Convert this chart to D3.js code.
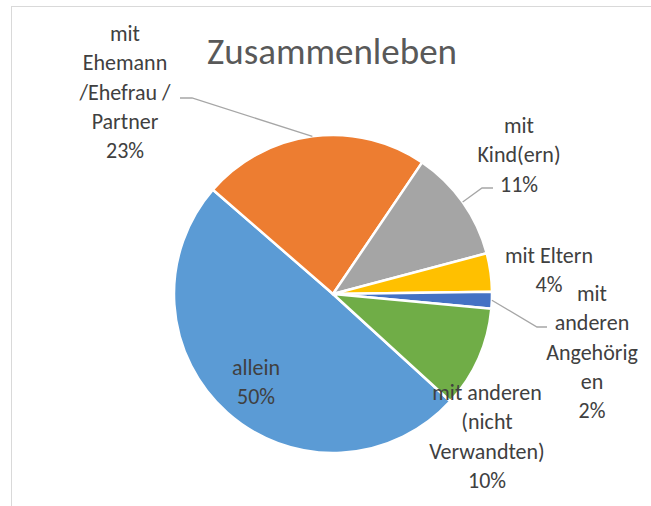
<!DOCTYPE html>
<html>
<head>
<meta charset="utf-8">
<script src="https://cdn.jsdelivr.net/npm/d3@7"></script>
<style>
  body { margin: 0; background: #fff; }
  svg { display: block; }
</style>
</head>
<body>
<svg id="chart" width="651" height="506"></svg>
<script>
// data
const categories = ['allein', 'mit Ehemann /Ehefrau / Partner', 'mit Kind(ern)', 'mit Eltern',
                    'mit anderen Angehörigen', 'mit anderen (nicht Verwandten)']
const shares = [49.6, 23.1, 11.4, 3.9, 1.7, 10.3]
// how Excel wrapped the category names (percent is appended)
const labelLines = [
  ['allein'],
  ['mit', 'Ehemann', '/Ehefrau /', 'Partner'],
  ['mit', 'Kind(ern)'],
  ['mit Eltern'],
  ['mit', 'anderen', 'Angehörig', 'en'],
  ['mit anderen', '(nicht', 'Verwandten)']
]
const titleText = 'Zusammenleben'

// styles / layout
const colors = ['#5b9bd5', '#ed7d31', '#a5a5a5', '#ffc000', '#4472c4', '#70ad47']
const cx = 333, cy = 294, radius = 159
const firstAngle = 132.4   // degrees, like Excel "angle of first slice"
const lineH = 29.3
// label anchors (centre x, first baseline) and leader elbows, one per slice
const labelLayout = [
  { x: 256, y: 375 },
  { x: 125, y: 41, leader: [[192, 98], [180, 98]] },
  { x: 519, y: 133, leader: [[482, 188], [493, 188]] },
  { x: 549, y: 263 },
  { x: 592, y: 301, leader: [[537, 327], [547, 327]] },
  { x: 487, y: 400 }
]

const svg = d3.select('#chart')

// chart area frame (runs past the picture at right and bottom)
svg.append('rect')
  .attr('x', 11.5).attr('y', 6.5)
  .attr('width', 700).attr('height', 600)
  .attr('fill', '#fff')
  .attr('stroke', '#d9d9d9')
  .attr('stroke-width', 1)

svg.append('text')
  .attr('x', 332).attr('y', 64)
  .attr('text-anchor', 'middle')
  .style('font-family', 'Carlito, Lato, sans-serif')
  .style('font-size', '37px')
  .style('fill', '#595959')
  .text(titleText)

const rad = firstAngle * Math.PI / 180
const pie = d3.pie().sort(null).value(d => d)
  .startAngle(rad).endAngle(rad + 2 * Math.PI)
const arcs = pie(shares)
const total = d3.sum(shares)

const arc = d3.arc().innerRadius(0).outerRadius(radius)

const g = svg.append('g').attr('transform', `translate(${cx}, ${cy})`)

g.selectAll('path')
  .data(arcs)
  .enter()
  .append('path')
    .attr('d', arc)
    .attr('fill', (d, i) => colors[i])
    .attr('stroke', '#fff')
    .attr('stroke-width', 2.5)
    .attr('stroke-linejoin', 'round')

// leader lines start on the rim at the slice middle
arcs.forEach((d, i) => {
  let lay = labelLayout[i]
  if (!lay.leader) return
  let mid = (d.startAngle + d.endAngle) / 2
  let start = [cx + radius * Math.sin(mid), cy - radius * Math.cos(mid)]
  svg.append('polyline')
    .attr('points', [start].concat(lay.leader).map(p => p.join(',')).join(' '))
    .attr('fill', 'none')
    .attr('stroke', '#a6a6a6')
    .attr('stroke-width', 1.3)
})

// data labels
arcs.forEach((d, i) => {
  let lay = labelLayout[i]
  let lines = labelLines[i].concat([Math.round(d.value / total * 100) + '%'])
  let t = svg.append('text')
    .attr('text-anchor', 'middle')
    .style('font-family', 'Carlito, Lato, sans-serif')
    .style('font-size', '22px')
    .style('fill', '#404040')
  lines.forEach((l, j) => {
    t.append('tspan')
      .attr('x', lay.x)
      .attr('y', lay.y + j * lineH)
      .text(l)
  })
})
</script>
</body>
</html>
